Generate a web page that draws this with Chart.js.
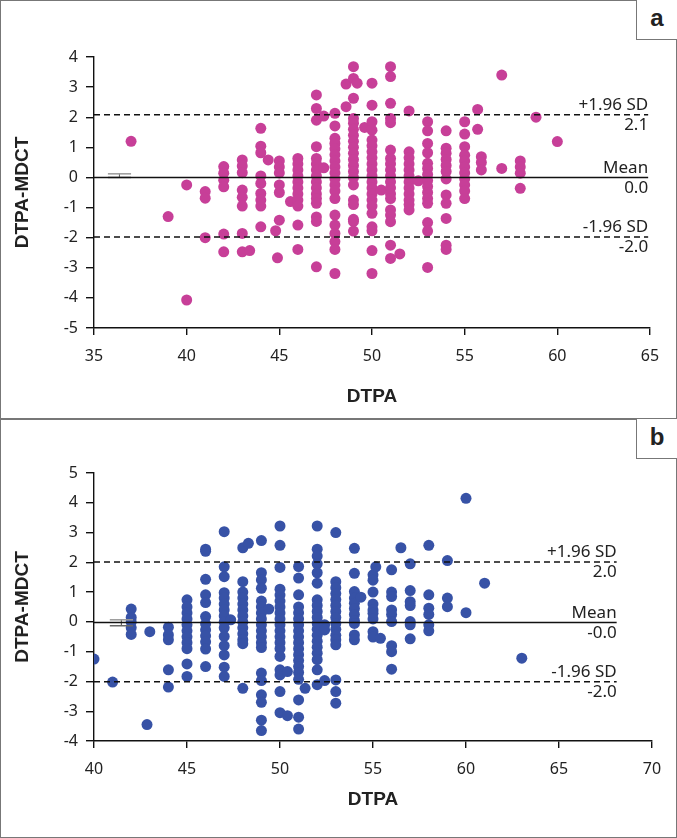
<!DOCTYPE html>
<html lang="en">
<head>
<meta charset="UTF-8" />
<title>DTPA vs MDCT agreement</title>
<script src="https://cdn.jsdelivr.net/npm/chart.js@4"></script>
<style>
  html, body { margin: 0; padding: 0; background: #fff; }
  body { width: 677px; height: 838px; position: relative; overflow: hidden; }
  canvas { position: absolute; left: 0; }
  #chartA { top: 0; }
  #chartB { top: 419px; }
  .frame {
    position: absolute; left: 0; width: 677px;
    border: 1.5px solid #777; box-sizing: border-box; pointer-events: none;
  }
  .tag {
    position: absolute; right: 0; width: 41px; height: 40px;
    border-left: 1.5px solid #777; border-bottom: 1.5px solid #777;
    box-sizing: border-box; background: #fff;
    font: bold 24px "Liberation Sans", Arial, sans-serif; color: #222;
    text-align: center; line-height: 36px;
  }
</style>
</head>
<body>
  <canvas id="chartA" width="677" height="420"></canvas>
  <canvas id="chartB" width="677" height="419"></canvas>
  <div class="frame" style="top:0; height:420px;"></div>
  <div class="frame" style="top:418px; height:420px;"></div>
  <div class="tag" style="top:0;">a</div>
  <div class="tag" style="top:419px;">b</div>

<script>
// ---- panel a : [DTPA mean, DTPA-MDCT difference] ----
const pointsA = [
  [37, 1.2], [39, -1.3], [40, -0.25], [40, -4.07],
  [41, -0.47], [41, -0.69], [41, -2.0],
  [42, 0.36], [42, 0.14], [42, -0.09], [42, -0.31], [42, -1.88], [42, -2.47],
  [43, 0.58], [43, 0.38], [43, 0.16], [43, -0.42], [43, -0.66], [43, -0.95], [43, -1.86], [43, -2.47],
  [43.4, -2.43],
  [44, 1.63], [44, 1.04], [44, 0.82], [44, 0.05], [44, -0.2], [44, -0.53], [44, -0.75], [44, -0.95], [44, -1.64],
  [44.4, 0.58], [44.8, -1.77], [44.9, -2.67],
  [45, 0.55], [45, 0.35], [45, 0.15], [45, -0.25], [45, -0.5], [45, -1.42],
  [45.6, -0.8],
  [46, 0.63], [46, 0.45], [46, 0.25], [46, 0.05], [46, -0.15], [46, -0.35], [46, -0.55], [46, -0.75], [46, -0.95], [46, -1.58], [46, -2.39],
  [47, 2.74], [47, 2.29], [47, 1.9], [47, 1.02], [47, 0.63], [47, 0.45], [47, 0.25], [47, 0.05], [47, -0.15], [47, -0.35], [47, -0.55], [47, -0.7], [47, -0.86], [47, -1.31], [47, -1.46], [47, -2.97],
  [47.4, 2.04], [47.4, 0.32],
  [48, 2.13], [48, 1.71], [48, 1.3], [48, 1.13], [48, 0.95], [48, 0.75], [48, 0.55], [48, 0.35], [48, 0.15], [48, -0.05], [48, -0.25], [48, -0.45], [48, -0.7], [48, -1.25], [48, -1.58], [48, -1.86], [48, -2.13], [48, -2.39], [48, -3.19],
  [48.6, 3.1], [48.6, 2.35],
  [49, 3.68], [49, 3.29], [49, 2.63], [49, 1.96], [49, 1.8], [49, 1.6], [49, 1.4], [49, 1.2], [49, 1.0], [49, 0.8], [49, 0.6], [49, 0.4], [49, 0.2], [49, 0.0], [49, -0.25], [49, -0.75], [49, -0.9], [49, -1.39], [49, -1.46], [49, -1.78],
  [49.2, 3.13], [49.6, 1.66],
  [50, 3.13], [50, 2.4], [50, 1.85], [50, 1.57], [50, 1.24], [50, 1.05], [50, 0.85], [50, 0.65], [50, 0.45], [50, 0.25], [50, 0.05], [50, -0.15], [50, -0.35], [50, -0.55], [50, -0.75], [50, -0.95], [50, -1.19], [50, -1.64], [50, -1.77], [50, -2.43], [50, -3.19],
  [50.5, -0.42],
  [51, 3.68], [51, 3.35], [51, 2.46], [51, 1.96], [51, 1.82], [51, 0.91], [51, 0.63], [51, 0.45], [51, 0.25], [51, 0.05], [51, -0.15], [51, -0.35], [51, -0.55], [51, -0.7], [51, -1.08], [51, -1.25], [51, -1.47], [51, -2.25], [51, -2.69],
  [51.5, -2.54],
  [52, 2.21], [52, 0.85], [52, 0.65], [52, 0.45], [52, 0.25], [52, 0.05], [52, -0.15], [52, -0.35], [52, -0.55], [52, -0.75], [52, -0.9], [52, -1.08],
  [52.5, -0.11],
  [53, 1.85], [53, 1.55], [53, 1.13], [53, 0.82], [53, 0.47], [53, 0.3], [53, 0.1], [53, -0.1], [53, -0.3], [53, -0.5], [53, -0.7], [53, -0.86], [53, -1.5], [53, -1.78], [53, -2.99],
  [54, 1.55], [54, 0.97], [54, 0.8], [54, 0.6], [54, 0.4], [54, 0.2], [54, -0.05], [54, -0.58], [54, -0.86], [54, -1.36], [54, -2.25], [54, -2.39],
  [55, 1.85], [55, 1.44], [55, 1.02], [55, 0.74], [55, 0.55], [55, 0.35], [55, 0.15], [55, -0.05], [55, -0.25], [55, -0.45], [55, -0.7],
  [55.7, 2.26], [55.7, 1.6],
  [55.9, 0.69], [55.9, 0.5], [55.9, 0.25],
  [57, 3.4], [57, 0.3],
  [58, 0.55], [58, 0.35], [58, 0.14], [58, -0.36],
  [58.85, 2.0], [60, 1.19]
];

// ---- panel b : [DTPA mean, DTPA-MDCT difference] ----
const pointsB = [
  [40, -1.25], [41, -2.02],
  [42, 0.43], [42, 0.15], [42, 0.0], [42, -0.2], [42, -0.42],
  [42.85, -3.45], [43, -0.33],
  [44, -0.18], [44, -0.44], [44, -0.6], [44, -1.61], [44, -2.19],
  [45, 0.74], [45, 0.5], [45, 0.3], [45, 0.1], [45, -0.1], [45, -0.3], [45, -0.5], [45, -0.7], [45, -0.9], [45, -1.41], [45, -1.83],
  [46, 2.44], [46, 2.37], [46, 1.43], [46, 0.91], [46, 0.65], [46, 0.18], [46, -0.07], [46, -0.27], [46, -0.47], [46, -0.67], [46, -0.91], [46, -1.5],
  [47, 3.03], [47, 1.85], [47, 1.52], [47, 0.98], [47, 0.8], [47, 0.6], [47, 0.4], [47, 0.2], [47, 0.0], [47, -0.2], [47, -0.49], [47, -0.8], [47, -1.11], [47, -1.52], [47, -1.83],
  [47.35, 0.07],
  [48, 2.49], [48, 1.35], [48, 1.0], [48, 0.8], [48, 0.6], [48, 0.4], [48, 0.2], [48, 0.0], [48, -0.2], [48, -0.4], [48, -0.6], [48, -0.73], [48, -2.23],
  [48.3, 2.64],
  [49, 2.73], [49, 1.65], [49, 1.41], [49, 1.13], [49, 0.7], [49, 0.5], [49, 0.3], [49, 0.1], [49, -0.1], [49, -0.3], [49, -0.5], [49, -0.7], [49, -0.86], [49, -1.72], [49, -1.97], [49, -2.45], [49, -2.7], [49, -3.3], [49, -3.65],
  [49.4, 0.43],
  [50, 3.22], [50, 2.57], [50, 1.83], [50, 1.1], [50, 0.9], [50, 0.7], [50, 0.5], [50, 0.3], [50, 0.1], [50, -0.1], [50, -0.3], [50, -0.5], [50, -0.7], [50, -0.9], [50, -1.16], [50, -1.61], [50, -1.78], [50, -2.34], [50, -3.05],
  [50.4, -1.67], [50.4, -3.15],
  [51, 1.86], [51, 1.47], [51, 0.91], [51, 0.5], [51, 0.3], [51, 0.1], [51, -0.1], [51, -0.3], [51, -0.5], [51, -0.7], [51, -0.9], [51, -1.1], [51, -1.3], [51, -1.5], [51, -1.7], [51, -1.93], [51, -2.62], [51, -3.2], [51, -3.6],
  [51.35, -2.23],
  [52, 3.22], [52, 2.44], [52, 2.21], [52, 1.95], [52, 1.65], [52, 1.3], [52, 0.74], [52, 0.55], [52, 0.35], [52, 0.15], [52, -0.05], [52, -0.25], [52, -0.45], [52, -0.65], [52, -0.85], [52, -1.05], [52, -1.27], [52, -1.61], [52, -2.11],
  [52.4, -0.1], [52.4, -0.27], [52.4, -1.97],
  [53, 3.0], [53, 1.35], [53, 1.15], [53, 0.95], [53, 0.75], [53, 0.55], [53, 0.35], [53, 0.15], [53, -0.05], [53, -0.25], [53, -0.45], [53, -0.6], [53, -0.77], [53, -1.95], [53, -2.34], [53, -2.73],
  [54, 2.47], [54, 1.63], [54, 1.02], [54, 0.8], [54, 0.63], [54, 0.45], [54, 0.25], [54, 0.05], [54, -0.05], [54, -0.44], [54, -0.6],
  [54.35, 0.83],
  [55, 1.58], [55, 1.4], [55, 1.0], [55, 0.6], [55, 0.4], [55, 0.29], [55, 0.1], [55, -0.33], [55, -0.51],
  [55.15, 1.85], [55.4, -0.55],
  [56, 1.75], [56, 1.0], [56, 0.85], [56, 0.4], [56, 0.25], [56, 0.01], [56, -0.8], [56, -1.0], [56, -1.59],
  [56.5, 2.49],
  [57, 1.95], [57, 1.05], [57, 0.68], [57, 0.55], [57, 0.01], [57, -0.1], [57, -0.57],
  [58, 2.57], [58, 0.91], [58, 0.46], [58, 0.25], [58, -0.1], [58, -0.3],
  [59, 2.06], [59, 0.8], [59, 0.51],
  [60, 4.15], [60, 0.31], [61, 1.3], [63, -1.22]
];

// limits of agreement: value of line, label above, value printed below
const limitLabels = ['+1.96 SD', 'Mean', '-1.96 SD'];
const limitsA = [2.08, 0.0, -1.98];
const limitTextA = ['2.1', '0.0', '-2.0'];
const limitsB = [2.01, -0.02, -2.01];
const limitTextB = ['2.0', '-0.0', '-2.0'];

const colorA = '#c73f98';
const colorB = '#3752a6';
const tickFont = { family: 'Noto Sans', size: 16 };
const titleFont = { family: 'Liberation Sans', size: 19, weight: 'bold' };

function lineSet(y, x0, x1, dashed) {
  return {
    type: 'line',
    data: [{ x: x0, y: y }, { x: x1, y: y }],
    borderColor: '#111',
    borderWidth: 1.4,
    borderDash: dashed ? [6, 4] : [],
    pointRadius: 0,
    order: 0
  };
}

// little grey bar left over near the y axis at the mean
function stubSets(x0, x1, y1, y2) {
  return [
    { type: 'line', data: [{ x: x0, y: y1 }, { x: x1, y: y1 }], borderColor: '#999', borderWidth: 1.5, pointRadius: 0 },
    { type: 'line', data: [{ x: x0, y: y2 }, { x: x1, y: y2 }], borderColor: '#666', borderWidth: 1.5, pointRadius: 0 },
    { type: 'line', data: [{ x: (x0 + x1) / 2, y: y1 }, { x: (x0 + x1) / 2, y: y2 }], borderColor: '#666', borderWidth: 1, pointRadius: 0 }
  ];
}

const limitTextPlugin = {
  id: 'limitText',
  afterDatasetsDraw(chart, args, opts) {
    const ctx = chart.ctx;
    const xr = chart.scales.x.getPixelForValue(opts.xEnd);
    ctx.save();
    ctx.font = '17px "Noto Sans"';
    ctx.fillStyle = '#222';
    ctx.textAlign = 'right';
    opts.values.forEach((v, i) => {
      const y = chart.scales.y.getPixelForValue(v);
      ctx.textBaseline = 'bottom';
      ctx.fillText(limitLabels[i], xr, y - 1);
      ctx.textBaseline = 'top';
      ctx.fillText(opts.texts[i], xr, y + 2);
    });
    ctx.restore();
  }
};

function makeChart(id, points, color, xr, yr, limits, texts, xEnd, xTickH, titlePad, stub) {
  const datasets = [{
    type: 'scatter',
    data: points.map(p => ({ x: p[0], y: p[1] })),
    backgroundColor: color,
    borderWidth: 0,
    pointRadius: 5.5,
    order: 1
  }];
  limits.forEach((v, i) => datasets.push(lineSet(v, xr[0], xEnd, i !== 1)));
  stubSets(...stub).forEach(s => datasets.push(s));

  return new Chart(document.getElementById(id), {
    type: 'scatter',
    data: { datasets: datasets },
    options: {
      responsive: false,
      animation: false,
      devicePixelRatio: 1,
      layout: { padding: { top: yr[2], right: xr[2], bottom: 0, left: 0 } },
      plugins: {
        legend: { display: false },
        tooltip: { enabled: false },
        limitText: { values: limits, texts: texts, xEnd: xEnd }
      },
      scales: {
        x: {
          type: 'linear', min: xr[0], max: xr[1],
          ticks: { stepSize: 5, font: tickFont, color: '#222', padding: 12 },
          grid: { drawOnChartArea: false, drawTicks: true, tickLength: 7, color: '#111', lineWidth: 1.4 },
          border: { color: '#111', width: 1.4 },
          title: { display: true, text: 'DTPA', font: titleFont, color: '#222', padding: { top: 0, bottom: titlePad } },
          afterFit: s => { s.height = xTickH; }
        },
        y: {
          type: 'linear', min: yr[0], max: yr[1],
          ticks: { stepSize: 1, font: tickFont, color: '#222', padding: 8 },
          grid: { drawOnChartArea: false, drawTicks: true, tickLength: 8, color: '#111', lineWidth: 1.4 },
          border: { color: '#111', width: 1.4 },
          title: { display: true, text: 'DTPA-MDCT', font: titleFont, color: '#222', padding: { top: 11, bottom: 0 } },
          afterFit: s => { s.width = 94; }
        }
      }
    },
    plugins: [limitTextPlugin]
  });
}

makeChart('chartA', pointsA, colorA, [35, 65, 27], [-5, 4, 57],
  limitsA, limitTextA, 64.9, 92, 12, [35.75, 37.0, 0.12, 0.0]);
makeChart('chartB', pointsB, colorB, [40, 70, 25], [-4, 5, 54],
  limitsB, limitTextB, 68.1, 97, 27, [40.85, 42.1, 0.07, -0.13]);
</script>
</body>
</html>
